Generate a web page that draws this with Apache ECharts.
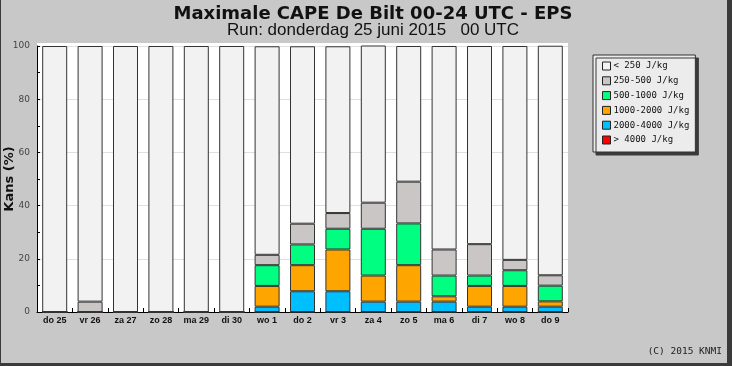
<!DOCTYPE html>
<html>
<head>
<meta charset="utf-8">
<script src="https://cdn.jsdelivr.net/npm/echarts@6/dist/echarts.min.js"></script>
<style>
html,body{margin:0;padding:0;background:#c8c8c8;}
#chart{width:732px;height:366px;}
</style>
</head>
<body>
<div id="chart"></div>
<script>
const categories = ['do 25','vr 26','za 27','zo 28','ma 29','di 30','wo 1','do 2','vr 3','za 4','zo 5','ma 6','di 7','wo 8','do 9'];
const yTicks = [0, 20, 40, 60, 80, 100];
const legendNames = ['< 250 J/kg','250-500 J/kg','500-1000 J/kg','1000-2000 J/kg','2000-4000 J/kg','> 4000 J/kg'];
// percentages per class
const below250   = [100, 96.1, 100, 100, 100, 100, 78.4, 66.7, 62.7, 59.5, 51.0, 76.5, 74.5, 80.4, 86.3];
const c250_500   = [0, 3.9, 0, 0, 0, 0, 3.9, 7.8, 5.9, 9.8, 15.7, 9.8, 11.8, 3.9, 3.9];
const c500_1000  = [0, 0, 0, 0, 0, 0, 7.8, 7.8, 7.8, 17.6, 15.7, 7.8, 3.9, 5.9, 5.9];
const c1000_2000 = [0, 0, 0, 0, 0, 0, 7.8, 9.8, 15.7, 9.8, 13.7, 2.0, 7.8, 7.8, 2.0];
const c2000_4000 = [0, 0, 0, 0, 0, 0, 2.0, 7.8, 7.8, 3.9, 3.9, 3.9, 2.0, 2.0, 2.0];
const above4000  = [0, 0, 0, 0, 0, 0, 0, 0, 0, 0, 0, 0, 0, 0, 0];

const colors = {
  '< 250 J/kg': '#f2f2f2',
  '250-500 J/kg': '#cac6c6',
  '500-1000 J/kg': '#00ff80',
  '1000-2000 J/kg': '#ffa500',
  '2000-4000 J/kg': '#00bfff',
  '> 4000 J/kg': '#ff0000'
};
const seriesData = [
  ['> 4000 J/kg', above4000],
  ['2000-4000 J/kg', c2000_4000],
  ['1000-2000 J/kg', c1000_2000],
  ['500-1000 J/kg', c500_1000],
  ['250-500 J/kg', c250_500],
  ['< 250 J/kg', below250]
];

const chart = echarts.init(document.getElementById('chart'), null, {renderer: 'canvas'});
const option = {
  animation: false,
  backgroundColor: '#c8c8c8',
  graphic: [
    {type: 'rect', z: -10, silent: true, shape: {x: 0, y: 0, width: 732, height: 366}, style: {fill: '#3a3a3a'}},
    {type: 'rect', z: -9, silent: true, shape: {x: 1, y: 0, width: 726, height: 363}, style: {fill: '#c8c8c8'}},
    {type: 'rect', z: -8, silent: true, shape: {x: 37, y: 43, width: 531, height: 269}, style: {fill: '#ffffff'}},
    {type: 'text', right: 10, top: 347, style: {text: '(C) 2015 KNMI', font: '9.5px "DejaVu Sans Mono"', fill: '#222'}}
  ],
  title: [
    {text: 'Maximale CAPE De Bilt 00-24 UTC - EPS', left: 368, top: 0, textAlign: 'center',
     textStyle: {fontFamily: 'DejaVu Sans', fontWeight: 'bold', fontSize: 18, color: '#111'}},
    {text: 'Run: donderdag 25 juni 2015   00 UTC', left: 368, top: 17, textAlign: 'center',
     textStyle: {fontFamily: 'Liberation Sans', fontWeight: 'normal', fontSize: 17, color: '#111'}}
  ],
  legend: {
    orient: 'vertical', left: 593, top: 55,
    data: legendNames,
    backgroundColor: '#ececec', borderColor: '#333', borderWidth: 1,
    shadowColor: '#3a3a3a', shadowBlur: 0, shadowOffsetX: 3, shadowOffsetY: 3,
    padding: [5, 6, 6, 9],
    itemWidth: 8, itemHeight: 8, itemGap: 2.8,
    icon: 'rect',
    itemStyle: {borderColor: '#222', borderWidth: 1},
    textStyle: {fontFamily: 'DejaVu Sans Mono', fontSize: 9, lineHeight: 12, color: '#111', padding: [0, 0, 0, -2]}
  },
  grid: {left: 37, right: 164, top: 46, bottom: 54, containLabel: false, outerBoundsMode: 'none'},
  xAxis: {
    type: 'category', data: categories,
    axisLine: {lineStyle: {color: '#000', width: 1}},
    axisTick: {show: true, inside: true, length: 4, lineStyle: {color: '#000'}},
    axisLabel: {fontFamily: 'Liberation Sans', fontWeight: 'bold', fontSize: 9, color: '#111', margin: 4},
    splitLine: {show: false}
  },
  yAxis: {
    type: 'value', min: 0, max: 100, interval: 20,
    name: 'Kans (%)', nameLocation: 'middle', nameGap: 21, nameMoveOverlap: false,
    nameTextStyle: {fontFamily: 'DejaVu Sans', fontWeight: 'bold', fontSize: 13, color: '#111'},
    axisLine: {show: true, lineStyle: {color: '#000', width: 1}},
    axisTick: {show: true, inside: true, length: 3, lineStyle: {color: '#000'}},
    minorTick: {show: true, splitNumber: 2, length: 3, lineStyle: {color: '#000'}},
    axisLabel: {fontFamily: 'DejaVu Sans', fontSize: 9, color: '#444', margin: 7,
      formatter: v => yTicks.indexOf(v) >= 0 ? String(v) : ''},
    splitLine: {show: true, lineStyle: {color: '#e0e0e0', width: 1}}
  },
  series: seriesData.map(([name, data]) => ({
    name, type: 'bar', stack: 'cape', data,
    barWidth: 25,
    itemStyle: {color: colors[name], borderColor: '#333', borderWidth: 1},
    emphasis: {disabled: true}
  }))
};
chart.setOption(option);
</script>
</body>
</html>
